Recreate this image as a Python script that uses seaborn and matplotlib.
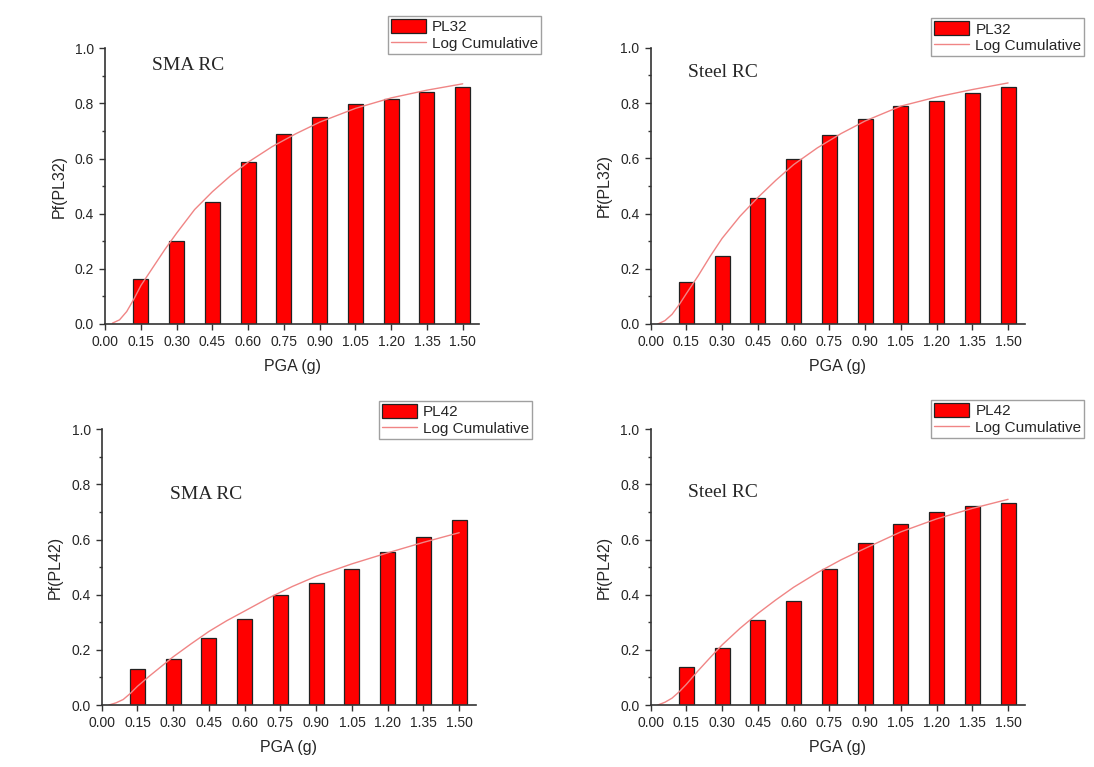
import matplotlib
matplotlib.use('Agg')
import pandas as pd
import matplotlib.pyplot as plt
import seaborn as sns
from matplotlib.ticker import MultipleLocator, FormatStrFormatter
from matplotlib.patches import Patch
from matplotlib.lines import Line2D

# PGA levels (g) for the bars
pga = [0.15, 0.30, 0.45, 0.60, 0.75, 0.90, 1.05, 1.20, 1.35, 1.50]

# probability of failure
sma_pl32 = [0.164, 0.300, 0.441, 0.586, 0.689, 0.752, 0.796, 0.815, 0.840, 0.860]
steel_pl32 = [0.153, 0.248, 0.455, 0.596, 0.683, 0.744, 0.789, 0.808, 0.837, 0.860]
sma_pl42 = [0.129, 0.166, 0.242, 0.312, 0.400, 0.443, 0.493, 0.554, 0.611, 0.672]
steel_pl42 = [0.139, 0.208, 0.307, 0.377, 0.495, 0.589, 0.657, 0.701, 0.722, 0.733]

# log cumulative fitted curves
curve_pga = [0.03, 0.06, 0.09, 0.12, 0.15, 0.20, 0.25, 0.30, 0.375, 0.45,
             0.525, 0.60, 0.70, 0.80, 0.90, 1.05, 1.20, 1.35, 1.50]
sma_pl32_fit = [0.003, 0.015, 0.045, 0.09, 0.14, 0.205, 0.27, 0.33, 0.415, 0.48,
                0.537, 0.587, 0.643, 0.69, 0.732, 0.782, 0.82, 0.848, 0.871]
steel_pl32_fit = [0.0, 0.012, 0.035, 0.07, 0.11, 0.175, 0.245, 0.31, 0.39, 0.458,
                  0.52, 0.577, 0.638, 0.69, 0.735, 0.789, 0.822, 0.849, 0.873]
sma_pl42_fit = [0.0, 0.008, 0.02, 0.042, 0.068, 0.105, 0.14, 0.175, 0.222, 0.267,
                0.306, 0.341, 0.388, 0.43, 0.467, 0.512, 0.552, 0.59, 0.625]
steel_pl42_fit = [0.0, 0.01, 0.025, 0.048, 0.075, 0.125, 0.172, 0.218, 0.278, 0.332,
                  0.381, 0.427, 0.48, 0.527, 0.568, 0.628, 0.675, 0.713, 0.746]

sns.set_style('ticks')
plt.rcParams['font.family'] = ['Liberation Sans', 'DejaVu Sans']

fig = plt.figure(figsize=(10.94, 7.67), dpi=100)

paneles = [
    # (rect, barras, curva, estado, texto, pos texto, pos leyenda)
    ([0.0962, 0.5776, 0.342, 0.3595], sma_pl32, sma_pl32_fit, 'PL32', 'SMA RC', (0.346, 0.936), (0.3543, 0.979)),
    ([0.5947, 0.5776, 0.342, 0.3600], steel_pl32, steel_pl32_fit, 'PL32', 'Steel RC', (0.302, 0.91), (0.851, 0.976)),
    ([0.0930, 0.0808, 0.342, 0.3595], sma_pl42, sma_pl42_fit, 'PL42', 'SMA RC', (0.44, 0.765), (0.3463, 0.4772)),
    ([0.5947, 0.0808, 0.342, 0.3595], steel_pl42, steel_pl42_fit, 'PL42', 'Steel RC', (0.302, 0.769), (0.851, 0.4785)),
]

bar_color = '#ff0000'
line_color = '#f08585'

for rect, barras, curva, estado, texto, pos_texto, pos_leyenda in paneles:
    ax = fig.add_axes(rect)
    df = pd.DataFrame({'PGA': pga, 'Pf': barras})
    sns.barplot(data=df, x='PGA', y='Pf', native_scale=True, width=0.42,
                color=bar_color, saturation=1, edgecolor='#222222', linewidth=0.9,
                errorbar=None, ax=ax)
    dfc = pd.DataFrame({'PGA': curve_pga, 'Pf': curva})
    sns.lineplot(data=dfc, x='PGA', y='Pf', color=line_color, linewidth=1.0, ax=ax)

    ax.set_xlim(0, 1.57)
    ax.set_ylim(0, 1.0)
    ax.xaxis.set_major_locator(MultipleLocator(0.15))
    ax.xaxis.set_major_formatter(FormatStrFormatter('%.2f'))
    ax.yaxis.set_major_locator(MultipleLocator(0.2))
    ax.yaxis.set_minor_locator(MultipleLocator(0.1))
    ax.yaxis.set_major_formatter(FormatStrFormatter('%.1f'))
    ax.tick_params(axis='both', which='major', labelsize=10, length=4, width=1, color='#333333', pad=4)
    ax.tick_params(axis='y', which='minor', length=2.5, width=1, color='#333333')
    for s in ['top', 'right']:
        ax.spines[s].set_visible(False)
    for s in ['left', 'bottom']:
        ax.spines[s].set_linewidth(1.2)
        ax.spines[s].set_color('#333333')

    ax.set_xlabel('PGA (g)', fontsize=11.5, labelpad=7)
    ax.set_ylabel(f'Pf({estado})', fontsize=11.5, labelpad=6)

    ax.text(pos_texto[0], pos_texto[1], texto, ha='center', va='center',
            fontsize=14, family='Liberation Serif')

    handles = [Patch(facecolor=bar_color, edgecolor='#222222', linewidth=0.9),
               Line2D([], [], color=line_color, linewidth=1.0)]
    leg = fig.legend(handles, [estado, 'Log Cumulative'], loc='upper left',
                     bbox_to_anchor=pos_leyenda, borderaxespad=0, fontsize=11,
                     frameon=True, fancybox=False, edgecolor='#888888',
                     borderpad=0.2, labelspacing=0.1, handlelength=2.3,
                     handleheight=1.0, handletextpad=0.4)
    leg.get_frame().set_linewidth(1.0)

plt.savefig('out.png', dpi=100)
